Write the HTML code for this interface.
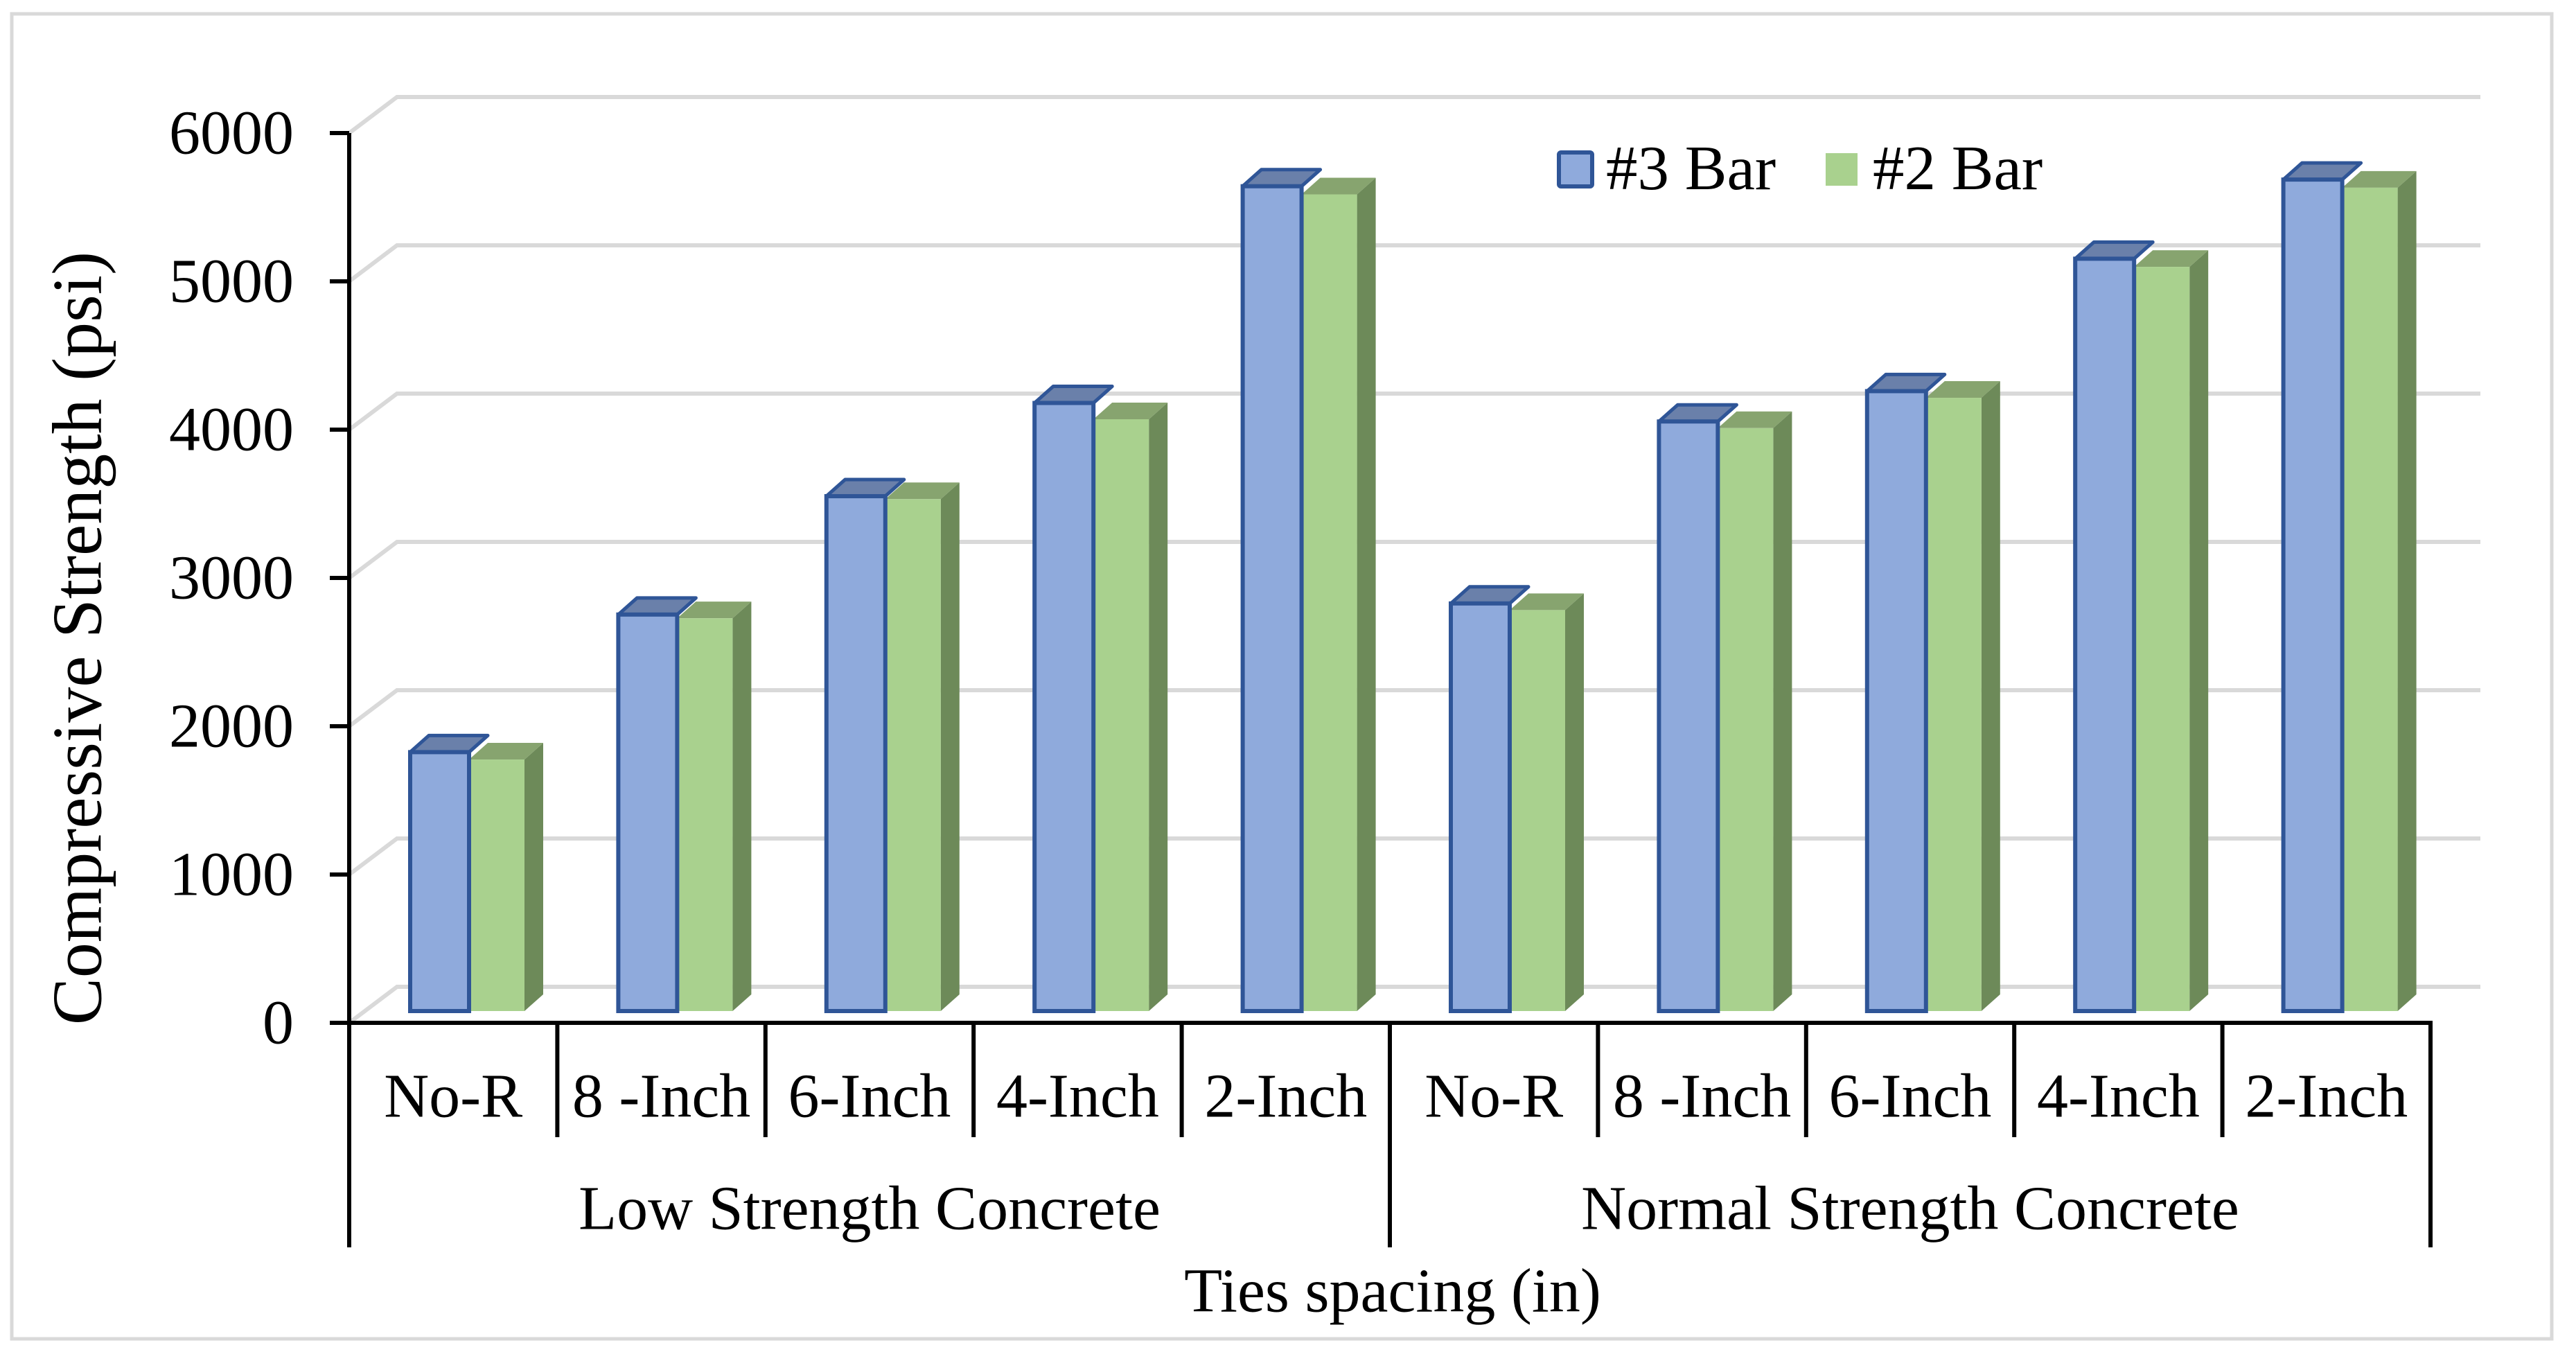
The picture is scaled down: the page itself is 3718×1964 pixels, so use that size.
<!DOCTYPE html>
<html><head><meta charset="utf-8"><style>
html,body{margin:0;padding:0;background:#fff;}
svg{display:block;font-family:"Liberation Serif",serif;}
</style></head><body>
<svg id="chart" width="3718" height="1964" viewBox="0 0 3718 1964">
<rect x="17" y="20" width="3666" height="1912" fill="#fff" stroke="#d9d9d9" stroke-width="5"/>
<g id="grid"></g><g id="bars"></g><g id="axes"></g>
<text x="112" y="921" font-size="102" text-anchor="middle" dominant-baseline="central" transform="rotate(-90 112 921)">Compressive Strength (psi)</text>
<text x="2010" y="1863" font-size="90" text-anchor="middle" dominant-baseline="central">Ties spacing (in)</text>
<g>
<rect x="2250" y="220" width="48" height="49" rx="3" fill="#8faadc" stroke="#2f5597" stroke-width="6"/>
<text x="2318" y="273" font-size="91">#3 Bar</text>
<rect x="2635" y="221" width="46" height="47" fill="#a9d18e"/>
<text x="2703" y="273" font-size="91">#2 Bar</text>
</g>
</svg>
<script>
const categories = ["No-R","8 -Inch","6-Inch","4-Inch","2-Inch","No-R","8 -Inch","6-Inch","4-Inch","2-Inch"];
const groups = ["Low Strength Concrete","Normal Strength Concrete"];
const bar3Values = [1750,2680,3480,4110,5575,2755,3985,4190,5085,5620];
const bar2Values = [1700,2655,3460,4000,5520,2710,3940,4145,5030,5565];
const yTicks = [0,1000,2000,3000,4000,5000,6000];

const NS="http://www.w3.org/2000/svg";
const X0=504, X1=3508, AXY=1476, AXTOP=192;
const catW=(X1-X0)/categories.length;
const DX=69, DY=-52;
const barBase=1459, pxPer=213.5/1000;
const yFront=v=>AXY-(v/6000)*(AXY-AXTOP);
const yBar=v=>barBase-v*pxPer;
const xCat=i=>X0+i*catW;
function mk(tag,attrs,parent){const e=document.createElementNS(NS,tag);for(const k in attrs)e.setAttribute(k,attrs[k]);parent.appendChild(e);return e;}
const grid=document.getElementById('grid'),bars=document.getElementById('bars'),axes=document.getElementById('axes');

yTicks.forEach(t=>{
  const yf=yFront(t);
  const g=mk('polyline',{points:`${X0},${yf} ${X0+DX},${yf+DY} 3580,${yf+DY}`,fill:'none',stroke:'#d9d9d9','stroke-width':6},grid);
  
  
  const tk=mk('line',{x1:476,y1:yf,x2:X0,y2:yf,stroke:'#000','stroke-width':6},axes);
  
  
  const tl=mk('text',{x:424,y:yf,'font-size':90,'text-anchor':'end','dominant-baseline':'central'},axes);
  tl.textContent=t;
  
  
});

const bw3=85,bw2=80,bdx=27,bdy=-24;
categories.forEach((c,i)=>{
  const bx=xCat(i)+88;
  const gx=bx+bw3, gt=yBar(bar2Values[i]);
  const gs=mk('polygon',{points:`${gx+bw2},${gt} ${gx+bw2+bdx},${gt+bdy} ${gx+bw2+bdx},${barBase+bdy} ${gx+bw2},${barBase}`,fill:'#6d8a59'},bars);
  
  
  const gtp=mk('polygon',{points:`${gx},${gt} ${gx+bdx},${gt+bdy} ${gx+bw2+bdx},${gt+bdy} ${gx+bw2},${gt}`,fill:'#87a46f'},bars);
  
  
  const gf=mk('rect',{x:gx,y:gt,width:bw2,height:barBase-gt,fill:'#a9d18e'},bars);
  
  
  const bt=yBar(bar3Values[i]);
  const btp=mk('polygon',{points:`${bx},${bt} ${bx+bdx},${bt+bdy} ${bx+bw3+bdx},${bt+bdy} ${bx+bw3},${bt}`,fill:'#6a80aa',stroke:'#2f5597','stroke-width':5,'stroke-linejoin':'round'},bars);
  
  
  const bf=mk('rect',{x:bx,y:bt,width:bw3,height:barBase-bt,fill:'#8faadc',stroke:'#2f5597','stroke-width':6},bars);
  
  
  const cl=mk('text',{x:xCat(i)+catW/2,y:1582,'font-size':90,'text-anchor':'middle','dominant-baseline':'central'},axes);
  cl.textContent=c;
  
  
  if(i>0 && i%5!==0){
    const d=mk('line',{x1:xCat(i),y1:AXY,x2:xCat(i),y2:1641,stroke:'#000','stroke-width':6},axes);
    
    
  }
});
for(let k=0;k<=groups.length;k++){
  const gxp=xCat(k*5);
  const d=mk('line',{x1:gxp,y1:(k==0?AXTOP:AXY),x2:gxp,y2:1800,stroke:'#000','stroke-width':6},axes);
  
  
}
groups.forEach((g,k)=>{
  const t=mk('text',{x:xCat(k*5)+catW*2.5,y:1744,'font-size':90,'text-anchor':'middle','dominant-baseline':'central'},axes);
  t.textContent=g;
  
  
});
const xa=mk('line',{x1:476,y1:AXY,x2:X1+3,y2:AXY,stroke:'#000','stroke-width':6},axes);


</script>
</body></html>
